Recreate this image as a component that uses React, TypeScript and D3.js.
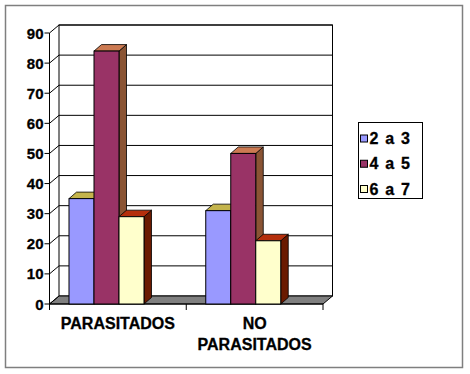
import React, { useEffect, useRef } from 'react';
import * as d3 from 'd3';

const categories = ['PARASITADOS', 'NO PARASITADOS'];
const series = ['2 a 3', '4 a 5', '6 a 7'];
const values2a3 = [35, 31];
const values4a5 = [84, 50];
const values6a7 = [29, 21];
const yTicks = [0, 10, 20, 30, 40, 50, 60, 70, 80, 90];

const seriesValues = [values2a3, values4a5, values6a7];
const frontColors = ['#9999ff', '#993366', '#ffffcc'];
const topColors = ['#c4b44c', '#cc7a52', '#b52f0c'];
const sideColors = ['#6b6bb3', '#8a5434', '#6a1a00'];

export default function App() {
  const svgRef = useRef<SVGSVGElement>(null);

  useEffect(() => {
    const svg = d3.select(svgRef.current);
    svg.selectAll('*').remove();

    const font = '"Liberation Sans", Arial, sans-serif';
    const left = 49.5, right = 323;
    // wall depth offset and bar depth offset
    const wdx = 9.5, wdy = -8;
    const bdx = 7.5, bdy = -6.5;

    const y = d3.scaleLinear().domain([0, 90]).range([304, 33]);
    const x0 = d3.scaleBand().domain(categories).range([left, right]).padding(0);
    const x1 = d3.scaleBand().domain(series).range([19.5, 94.5]).padding(0);

    // outer frame
    svg.append('rect')
      .attr('x', 5.5).attr('y', 5.5).attr('width', 457).attr('height', 362)
      .attr('fill', '#fff').attr('stroke', '#7f7f7f').attr('stroke-width', 1.5);

    const g = svg.append('g');

    // back wall
    g.append('rect')
      .attr('x', left + wdx).attr('y', y(90) + wdy)
      .attr('width', right - left).attr('height', y(0) - y(90))
      .attr('fill', '#fff').attr('stroke', '#000').attr('stroke-width', 1);

    // gridlines on back wall + left wall diagonals
    yTicks.filter((t) => t > 0).forEach((t) => {
      g.append('line')
        .attr('x1', left + wdx).attr('x2', right + wdx)
        .attr('y1', y(t) + wdy).attr('y2', y(t) + wdy)
        .attr('stroke', '#000').attr('stroke-width', 1);
      g.append('line')
        .attr('x1', left).attr('x2', left + wdx)
        .attr('y1', y(t)).attr('y2', y(t) + wdy)
        .attr('stroke', '#000').attr('stroke-width', 1);
    });

    // floor
    g.append('path')
      .attr('d', `M${left},${y(0)} L${right},${y(0)} L${right + wdx},${y(0) + wdy} L${left + wdx},${y(0) + wdy} Z`)
      .attr('fill', '#808080').attr('stroke', '#000').attr('stroke-width', 1);

    // left axis line
    g.append('line')
      .attr('x1', left).attr('x2', left).attr('y1', y(90)).attr('y2', y(0))
      .attr('stroke', '#000').attr('stroke-width', 1);
    g.append('line')
      .attr('x1', left).attr('x2', left + wdx).attr('y1', y(0)).attr('y2', y(0) + wdy)
      .attr('stroke', '#000');

    // y ticks and labels
    yTicks.forEach((t) => {
      g.append('line')
        .attr('x1', left - 5).attr('x2', left).attr('y1', y(t)).attr('y2', y(t))
        .attr('stroke', '#000');
      g.append('text')
        .attr('x', left - 6).attr('y', y(t))
        .attr('text-anchor', 'end').attr('dominant-baseline', 'central')
        .attr('font-family', font).attr('font-weight', 'bold').attr('font-size', 15)
        .attr('stroke', '#000').attr('stroke-width', 0.3)
        .text(t);
    });

    // category ticks
    [left, ...categories.map((c) => (x0(c) ?? 0) + x0.bandwidth())].forEach((xv) => {
      g.append('line')
        .attr('x1', xv).attr('x2', xv).attr('y1', y(0)).attr('y2', y(0) + 6)
        .attr('stroke', '#000');
    });
    g.append('line')
      .attr('x1', left).attr('x2', right).attr('y1', y(0)).attr('y2', y(0))
      .attr('stroke', '#000');

    // bars
    categories.forEach((c, ci) => {
      series.forEach((s, si) => {
        const v = seriesValues[si][ci];
        const bx = (x0(c) ?? 0) + (x1(s) ?? 0);
        const bw = x1.bandwidth();
        const top = y(v);
        const bottom = y(0);
        const bar = g.append('g');
        // side
        bar.append('path')
          .attr('d', `M${bx + bw},${top} L${bx + bw + bdx},${top + bdy} L${bx + bw + bdx},${bottom + bdy} L${bx + bw},${bottom} Z`)
          .attr('fill', sideColors[si]).attr('stroke', '#000').attr('stroke-width', 0.8);
        // top
        bar.append('path')
          .attr('d', `M${bx},${top} L${bx + bw},${top} L${bx + bw + bdx},${top + bdy} L${bx + bdx},${top + bdy} Z`)
          .attr('fill', topColors[si]).attr('stroke', '#000').attr('stroke-width', 0.8);
        // front
        bar.append('rect')
          .attr('x', bx).attr('y', top).attr('width', bw).attr('height', bottom - top)
          .attr('fill', frontColors[si]).attr('stroke', '#000').attr('stroke-width', 1);
      });
    });

    // category labels
    categories.forEach((c) => {
      const cx = (x0(c) ?? 0) + x0.bandwidth() / 2;
      const words = c === 'NO PARASITADOS' ? ['NO', 'PARASITADOS'] : [c];
      words.forEach((w, i) => {
        g.append('text')
          .attr('x', cx).attr('y', 329 + i * 21)
          .attr('text-anchor', 'middle')
          .attr('font-family', font).attr('font-weight', 'bold').attr('font-size', 16)
          .attr('stroke', '#000').attr('stroke-width', 0.3)
          .text(w);
      });
    });

    // legend
    const legend = svg.append('g');
    legend.append('rect')
      .attr('x', 358.5).attr('y', 122.5).attr('width', 64).attr('height', 76)
      .attr('fill', '#fff').attr('stroke', '#000').attr('stroke-width', 1);
    const ly = d3.scalePoint().domain(series).range([138.5, 189]);
    series.forEach((s, si) => {
      const cy = ly(s) ?? 0;
      legend.append('rect')
        .attr('x', 360.5).attr('y', cy - 3.5).attr('width', 7).attr('height', 7)
        .attr('fill', frontColors[si]).attr('stroke', '#000').attr('stroke-width', 1);
      legend.append('text')
        .attr('x', 369.5).attr('y', cy)
        .attr('dominant-baseline', 'central')
        .attr('font-family', font).attr('font-weight', 'bold').attr('font-size', 16)
        .attr('stroke', '#000').attr('stroke-width', 0.3)
        .attr('letter-spacing', 1.2)
        .text(s);
    });
  }, []);

  return (
    <svg
      ref={svgRef}
      width={470}
      height={374}
      style={{ position: 'absolute', left: 0, top: 0, display: 'block' }}
    />
  );
}
